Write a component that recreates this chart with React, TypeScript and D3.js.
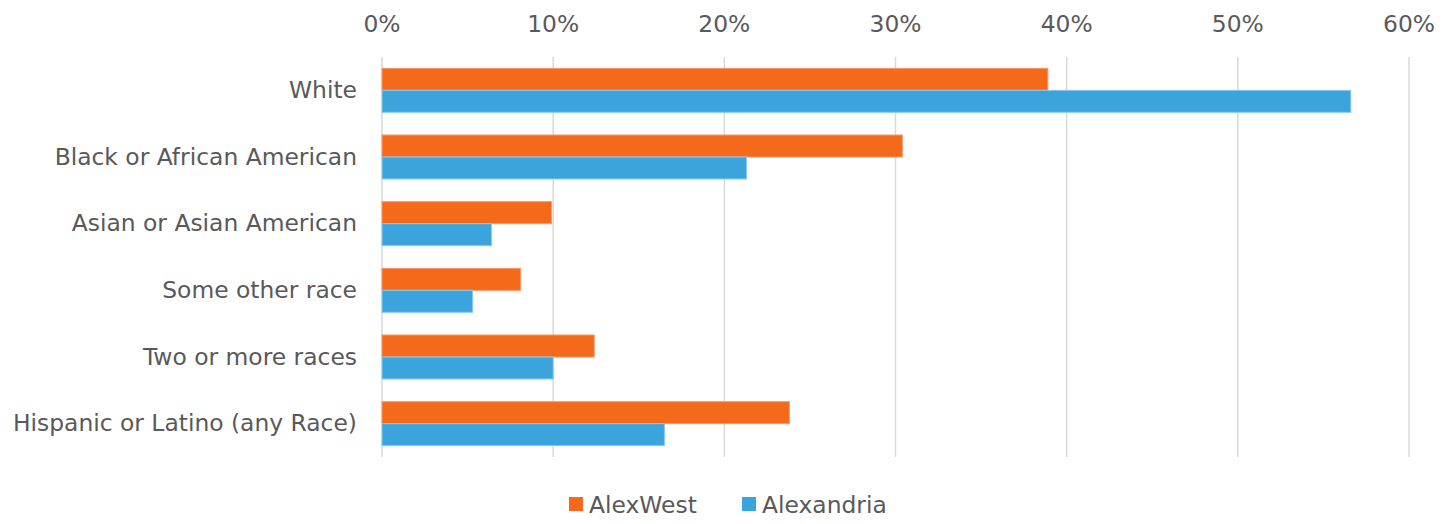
import React from "react";
import * as d3 from "d3";

const categories = [
  "White",
  "Black or African American",
  "Asian or Asian American",
  "Some other race",
  "Two or more races",
  "Hispanic or Latino (any Race)",
];
const seriesNames = ["AlexWest", "Alexandria"];
const alexWest = [0.389, 0.304, 0.099, 0.081, 0.124, 0.238];
const alexandria = [0.566, 0.213, 0.064, 0.053, 0.1, 0.165];
const tickValues = [0, 0.1, 0.2, 0.3, 0.4, 0.5, 0.6];
const colors = ["#F4691A", "#3BA4DC"];
const strokes = ["#F8996A", "#8ACBEC"];

const W = 1451;
const H = 524;
const margin = { left: 382, right: 42, top: 57, bottom: 67 };
const FONT = "'DejaVu Sans', Verdana, sans-serif";
const TEXT = "#595959";
const FS = 23.4;

export default function App() {
  const x = d3
    .scaleLinear()
    .domain([0, 0.6])
    .range([margin.left, W - margin.right]);
  const y = d3
    .scaleBand<string>()
    .domain(categories)
    .range([margin.top, H - margin.bottom])
    .paddingInner(0.34)
    .paddingOuter(0.17);
  const sub = d3
    .scaleBand<string>()
    .domain(seriesNames)
    .range([0, y.bandwidth()]);
  const series = [alexWest, alexandria];
  const fmt = d3.format(".0%");

  return (
    <svg
      width={W}
      height={H}
      style={{ position: "absolute", left: 0, top: 0, background: "#fff" }}
      fontFamily={FONT}
    >
      {tickValues.map((t) => (
        <g key={t}>
          <line
            x1={x(t)}
            x2={x(t)}
            y1={margin.top}
            y2={H - margin.bottom}
            stroke="#D9D9D9"
            strokeWidth={1.5}
          />
          <text
            x={x(t)}
            y={32}
            textAnchor="middle"
            fontSize={FS}
            fill={TEXT}
          >
            {fmt(t)}
          </text>
        </g>
      ))}
      {categories.map((c, i) => (
        <g key={c}>
          {series.map((s, j) => (
            <rect
              key={j}
              x={x(0)}
              y={(y(c) as number) + (sub(seriesNames[j]) as number)}
              width={x(s[i]) - x(0)}
              height={sub.bandwidth()}
              fill={colors[j]}
              stroke={strokes[j]}
              strokeWidth={1}
            />
          ))}
          <text
            x={357}
            y={(y(c) as number) + y.bandwidth() / 2 + 7.5}
            textAnchor="end"
            fontSize={FS}
            fill={TEXT}
          >
            {c}
          </text>
        </g>
      ))}
      {seriesNames.map((n, j) => {
        const lx = j === 0 ? 569 : 742;
        return (
          <g key={n}>
            <rect x={lx} y={497} width={14} height={14} fill={colors[j]} />
            <text x={lx + 20} y={513} fontSize={FS} fill={TEXT}>
              {n}
            </text>
          </g>
        );
      })}
    </svg>
  );
}
